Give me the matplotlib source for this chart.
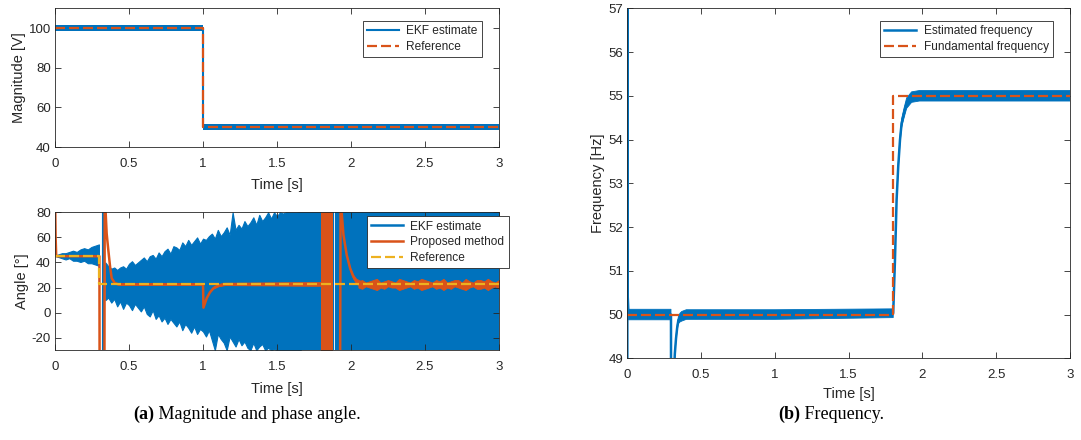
import numpy as np
import matplotlib.pyplot as plt
from matplotlib.lines import Line2D

nan = np.nan

# colours (MATLAB default order)
blue = '#0072BD'
orange = '#D95319'
yellow = '#EDB120'
ink = '#262626'

# ---- magnitude ----
mag_t = [0.0, 1.0, 1.0, 3.0]
mag_ekf = [100.0, 100.0, 50.0, 50.0]
mag_spread = [1.5, 1.5, 1.5, 1.5]
mag_ref = [100.0, 100.0, 50.0, 50.0]

# ---- angle: EKF envelope (upper / lower edge of the oscillation) ----
# start, before the 0.3 s event
ekf_a_t = [0.0, 0.025, 0.05, 0.075, 0.1, 0.125, 0.15, 0.175, 0.2, 0.225,
           0.25, 0.275, 0.30, nan, 0.317, 0.324, nan]
ekf_a_hi = [45, 46, 47, 47, 48, 49, 48, 50, 51, 50, 52, 53, 54, nan, 100, 100, nan]
ekf_a_lo = [45, 44, 43, 42, 43, 41, 41, 40, 41, 39, 39, 38, 37, nan, -100, -100, nan]
# growing oscillation, sampled every 0.02 s from 0.34 s to 1.66 s
ekf_b_t = np.linspace(0.34, 1.66, 67)
ekf_b_hi = [40, 37, 35, 36, 34, 36, 37, 35, 39, 41,
            38, 40, 42, 44, 41, 45, 46, 43, 48, 45,
            49, 51, 47, 53, 52, 50, 56, 53, 58, 54,
            57, 60, 55, 59, 58, 61, 63, 59, 66, 61,
            64, 68, 62, 80, 66, 70, 67, 73, 69, 72,
            76, 70, 78, 73, 76, 80, 75, 80, 77, 80,
            79, 80, 80, 80, 80, 80, 100]
ekf_b_lo = [10, 12, 8, 11, 5, 9, 3, 8, 6, 2,
            7, 4, 1, 5, -1, -3, 2, -5, -2, -7,
            -4, -9, -5, -8, -11, -7, -14, -9, -12, -16,
            -11, -17, -13, -15, -19, -14, -22, -30, -17, -21,
            -24, -30, -19, -23, -27, -21, -26, -23, -28, -30,
            -24, -30, -27, -25, -30, -28, -30, -29, -30, -30,
            -30, -30, -30, -30, -30, -30, -100]
# saturated part, with a short gap near 1.89 s
ekf_c_t = [1.66, 1.88, nan, 1.894, 3.0]
ekf_c_hi = [100, 100, nan, 100, 100]
ekf_c_lo = [-100, -100, nan, -100, -100]

# ---- angle: proposed method ----
prop_t = [0.0, 0.004, 0.008, 0.30, 0.302, 0.333, 0.336, 0.342, 0.349, 0.36,
          0.372, 0.383, 0.405, 0.43, 1.0, 1.003, 1.025, 1.047, 1.07, 1.104,
          1.15, 1.50, 1.795, nan, 1.925, 1.930, 1.937, 1.949, 1.971, 1.994,
          2.016, 2.038, 2.07]
prop_val = [95, 60, 45, 45, -100, -100, 100, 80, 63, 50,
            36.7, 27.4, 23.4, 22.5, 22.5, 4, 11.5, 16.2, 19.4, 21.5,
            22.5, 22.5, 22.5, nan, -100, 100, 80, 62, 46, 35.4,
            28.7, 24.7, 22.5]
prop_spread = [0, 0, 0, 0.5, 0, 0, 0, 0, 0, 0,
               0, 0.5, 0.6, 0.7, 0.8, 0, 0.3, 0.5, 0.8, 1.0,
               1.0, 1.3, 1.6, nan, 0, 0, 0, 0, 0.5, 1.0,
               1.5, 2.0, 2.4]
# fast oscillation of the proposed method between 1.795 s and 1.876 s
prop_band_t = [1.795, 1.876]
prop_band_lo = [-100, -100]
prop_band_hi = [100, 100]
# noisy tail after the second transient, every 0.025 s
prop_tail_t = np.linspace(2.05, 3.0, 39)
prop_tail_hi = [25, 26, 24, 25, 26, 27, 24, 25, 26, 25,
                24, 27, 26, 25, 24, 26, 25, 27, 26, 25,
                24, 26, 25, 27, 24, 25, 26, 26, 24, 27,
                25, 24, 26, 26, 25, 27, 25, 24, 26]
prop_tail_lo = [20, 19, 21, 20, 19, 18, 20, 19, 21, 20,
                20, 18, 19, 20, 21, 19, 20, 18, 19, 20,
                21, 19, 20, 18, 20, 19, 21, 20, 19, 18,
                20, 21, 19, 19, 20, 18, 20, 21, 19]

ang_ref_t = [0.0, 0.3, 0.3, 3.0]
ang_ref = [45.0, 45.0, 22.5, 22.5]

# ---- frequency ----
freq_t = [0.0, 0.0005, 0.003, 0.008, 0.296, 0.297, 0.314, 0.316, 0.322, 0.33,
          0.338, 0.346, 0.357, 0.369, 0.40, 1.0, 1.802, 1.814, 1.825, 1.836,
          1.848, 1.859, 1.875, 1.893, 1.927, 1.98, 2.5, 3.0]
freq_est = [40, 60, 50.4, 50.0, 50.0, 45, 45, 48.6, 49.1, 49.45,
            49.7, 49.87, 49.93, 49.96, 50.0, 50.0, 50.03, 51.25, 52.62, 53.38,
            53.99, 54.37, 54.6, 54.83, 54.97, 55.0, 55.0, 55.0]
freq_spread = [0, 0, 0.1, 0.12, 0.12, 0, 0, 0, 0.03, 0.05,
               0.06, 0.08, 0.1, 0.11, 0.11, 0.11, 0.1, 0.06, 0.06, 0.06,
               0.08, 0.1, 0.11, 0.12, 0.12, 0.12, 0.12, 0.12]
freq_ref_t = [0.0, 1.8, 1.8, 3.0]
freq_ref = [50.0, 50.0, 55.0, 55.0]

time_ticks = [0, 0.5, 1, 1.5, 2, 2.5, 3]
time_labels = ['0', '0.5', '1', '1.5', '2', '2.5', '3']

plt.rcParams['font.family'] = ['Liberation Sans', 'DejaVu Sans']
plt.rcParams['axes.linewidth'] = 0.6

fig = plt.figure(figsize=(10.81, 4.40), dpi=100)
ax1 = fig.add_axes([0.0509, 0.6659, 0.4107, 0.3152])
ax2 = fig.add_axes([0.0509, 0.2039, 0.4107, 0.3136])
ax3 = fig.add_axes([0.5803, 0.1857, 0.4095, 0.7955])


def style(ax, ylim, yticks, ylabel, xpad, labpad):
    ax.set_xlim(0, 3)
    ax.set_ylim(*ylim)
    ax.set_xticks(time_ticks)
    ax.set_xticklabels(time_labels)
    ax.set_yticks(yticks)
    ax.set_yticklabels([str(v) for v in yticks])
    ax.tick_params(direction='in', length=4, width=0.6, top=True, right=True,
                   colors=ink, labelsize=9.5)
    ax.tick_params(axis='x', pad=xpad)
    ax.tick_params(axis='y', pad=3)
    for s in ax.spines.values():
        s.set_color(ink)
    ax.set_xlabel('Time [s]', color=ink, fontsize=10.5, labelpad=labpad)
    ax.set_ylabel(ylabel, color=ink, fontsize=10.5, labelpad=2)


def legend(ax, handles, labels, **kw):
    lg = ax.legend(handles, labels, fancybox=False, framealpha=1, edgecolor=ink,
                   fontsize=8.6, handlelength=2.7, borderpad=0.35,
                   labelspacing=0.3, handletextpad=0.6, **kw)
    lg.get_frame().set_linewidth(0.6)
    for tx in lg.get_texts():
        tx.set_color(ink)
    return lg


dash = (4.5, 1.8)

# magnitude
m = np.array(mag_ekf)
sp = np.array(mag_spread)
ax1.fill_between(mag_t, m - sp, m + sp, color=blue, lw=0)
l1, = ax1.plot(mag_t, mag_ekf, color=blue, lw=1.5)
l2, = ax1.plot(mag_t, mag_ref, color=orange, lw=1.6, dashes=dash)
style(ax1, (40, 110), [40, 60, 80, 100], 'Magnitude [V]', 8, 6)
legend(ax1, [l1, l2], ['EKF estimate', 'Reference'],
       loc='upper right', bbox_to_anchor=(0.975, 0.95))

# angle
for tt, lo, hi in [(ekf_a_t, ekf_a_lo, ekf_a_hi), (ekf_b_t, ekf_b_lo, ekf_b_hi),
                   (ekf_c_t, ekf_c_lo, ekf_c_hi)]:
    ax2.fill_between(tt, lo, hi, color=blue, lw=0.8)
ax2.fill_between(prop_band_t, prop_band_lo, prop_band_hi, color=orange, lw=0)
p = np.array(prop_val, dtype=float)
ps = np.array(prop_spread, dtype=float)
ax2.fill_between(prop_t, p - ps, p + ps, color=orange, lw=0.5)
ax2.plot(prop_t, prop_val, color=orange, lw=1.8)
ax2.fill_between(prop_tail_t, prop_tail_lo, prop_tail_hi, color=orange, lw=0.6)
ax2.plot(ang_ref_t, ang_ref, color=yellow, lw=1.6, dashes=dash)
handles = [Line2D([], [], color=blue, lw=1.8),
           Line2D([], [], color=orange, lw=1.8),
           Line2D([], [], color=yellow, lw=1.6, dashes=dash)]
style(ax2, (-30, 80), [-20, 0, 20, 40, 60, 80], 'Angle [°]', 8, 6)
legend(ax2, handles, ['EKF estimate', 'Proposed method', 'Reference'],
       loc='upper right', bbox_to_anchor=(1.035, 1.013))

# frequency
f = np.array(freq_est)
fs = np.array(freq_spread)
ax3.fill_between(freq_t, f - fs, f + fs, color=blue, lw=0.6)
l3, = ax3.plot(freq_t, freq_est, color=blue, lw=1.8)
l4, = ax3.plot(freq_ref_t, freq_ref, color=orange, lw=1.6, dashes=dash)
style(ax3, (49, 57), list(range(49, 58)), 'Frequency [Hz]', 7.5, 4.5)
legend(ax3, [l3, l4], ['Estimated frequency', 'Fundamental frequency'],
       loc='upper right', bbox_to_anchor=(0.975, 0.98))

# captions
cap = dict(family=['Liberation Serif', 'DejaVu Serif'], fontsize=13,
           color='black', va='center')
cy = 1 - 414 / 440
fig.text(154 / 1081, cy, '(a)', ha='right', weight='bold', **cap)
fig.text(154 / 1081, cy, ' Magnitude and phase angle.', ha='left', **cap)
fig.text(800 / 1081, cy, '(b)', ha='right', weight='bold', **cap)
fig.text(800 / 1081, cy, ' Frequency.', ha='left', **cap)

fig.savefig('out.png', dpi=100)
